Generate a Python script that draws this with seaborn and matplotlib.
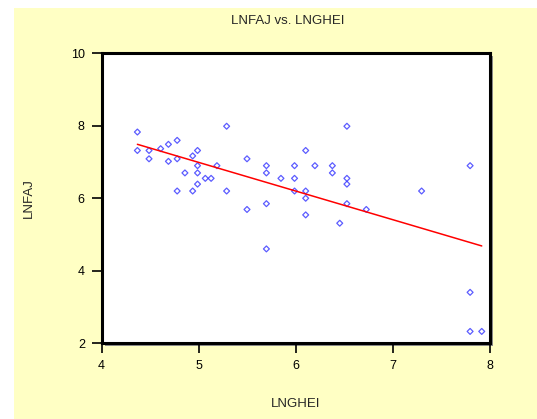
import matplotlib
matplotlib.use("Agg")
import matplotlib.pyplot as plt
import seaborn as sns
import pandas as pd
from matplotlib.patches import Rectangle

lnghei = [4.37, 4.37, 4.49, 4.49, 4.61, 4.69, 4.78, 4.69, 4.78, 4.78,
          4.86, 4.94, 4.94, 4.99, 4.99, 4.99, 4.99, 5.07, 5.13, 5.19,
          5.29, 5.29, 5.50, 5.50, 5.70, 5.70, 5.70, 5.70, 5.85, 5.99,
          5.99, 5.99, 6.105, 6.105, 6.105, 6.105, 6.20, 6.38, 6.38, 6.456,
          6.53, 6.53, 6.53, 6.53, 6.73, 7.30, 7.80, 7.80, 7.80, 7.92]
lnfaj = [7.83, 7.32, 7.32, 7.09, 7.37, 7.49, 7.60, 7.02, 7.09, 6.20,
         6.70, 7.17, 6.20, 7.32, 6.90, 6.70, 6.39, 6.55, 6.55, 6.90,
         7.99, 6.20, 7.09, 5.69, 6.90, 6.70, 5.85, 4.60, 6.55, 6.90,
         6.55, 6.20, 7.32, 6.20, 6.00, 5.54, 6.90, 6.90, 6.70, 5.31,
         7.99, 6.55, 6.39, 5.85, 5.69, 6.20, 6.90, 3.40, 2.32, 2.32]
x_ticks = [4, 5, 6, 7, 8]
y_ticks = [2, 4, 6, 8, 10]

df = pd.DataFrame({"LNGHEI": lnghei, "LNFAJ": lnfaj})

sns.set_style("white")
plt.rcParams['font.family'] = ['Liberation Sans', 'DejaVu Sans']

W, H = 537, 419
fig = plt.figure(figsize=(W / 100, H / 100), dpi=100)
fig.patch.set_facecolor("white")
bg = fig.add_axes([0, 0, 1, 1], zorder=0)
bg.set_axis_off()
bg.set_xlim(0, W)
bg.set_ylim(H, 0)
bg.add_patch(Rectangle((14, 8), W - 14, H - 8, facecolor="#FFFFC4",
                       edgecolor="none"))

l, r, t, b = 101.5, 489.5, 53.5, 343
# drop shadow of the plot frame
bg.add_patch(Rectangle((l + 3, t + 3), r - l, b - t, facecolor="#8C8C8C",
                       edgecolor="none"))

ax = fig.add_axes([l / W, 1 - b / H, (r - l) / W, (b - t) / H], zorder=2)
ax.set_facecolor("white")

sns.regplot(data=df, x="LNGHEI", y="LNFAJ", ax=ax, ci=None, marker="D",
            scatter_kws=dict(s=9, facecolors="none",
                             edgecolors="#3333FF", linewidths=0.9, zorder=3),
            line_kws=dict(color="#FF0000", lw=1.1, zorder=4))

ax.set_xlim(4, 8)
ax.set_ylim(2, 10)
ax.set_xticks(x_ticks)
ax.set_yticks(y_ticks)
for s in ax.spines.values():
    s.set_color("black")
    s.set_linewidth(2.2)
ax.tick_params(axis="both", direction="out", length=7, width=1.2,
               color="black", labelsize=9, labelcolor="black", pad=5,
               left=True, bottom=True)
ax.set_xlabel("LNGHEI", fontsize=9.5, labelpad=19)
ax.set_ylabel("LNFAJ", fontsize=9.5, labelpad=26)
ax.set_title("LNFAJ vs. LNGHEI", fontsize=9.5, pad=21, x=0.48)

fig.savefig("out.png", dpi=100)
